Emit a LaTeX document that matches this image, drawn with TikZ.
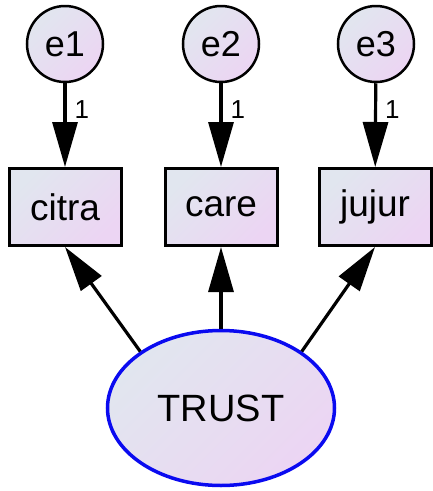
\documentclass[tikz,border=0pt]{standalone}
\usepackage{fontspec}
\setmainfont{Liberation Sans}
\usetikzlibrary{arrows.meta,shapes.geometric}
\definecolor{shadeA}{HTML}{E1E6EF}
\definecolor{shadeB}{HTML}{ECD5F3}
\definecolor{latentblue}{HTML}{0A0AF0}
\newfontfamily\labelfont{Liberation Sans}
\tikzset{
  filled/.style={top color=shadeA, bottom color=shadeB, shading angle=45},
  errvar/.style={circle, draw=black, line width=2.5pt, filled, minimum size=76pt,
    inner sep=0pt, font=\fontsize{36}{40}\selectfont},
  obsvar/.style={rectangle, draw=black, line width=3pt, filled, minimum width=112pt,
    minimum height=77pt, inner sep=0pt, font=\fontsize{37}{40}\selectfont},
  latvar/.style={ellipse, draw=latentblue, line width=3.5pt, filled, minimum width=227pt,
    minimum height=155pt, inner sep=0pt, font=\fontsize{38}{42}\selectfont},
  path/.style={line width=3.2pt, -{Triangle[length=45pt,width=25pt]}},
  pathweight/.style={font=\labelfont\fontsize{26}{28}\selectfont, inner sep=0pt,
    anchor=west, xshift=8pt}
}
\begin{document}
\begin{tikzpicture}[x=1pt, y=-1pt]
  \useasboundingbox (0,0) rectangle (433,491);

  % error terms
  \node[errvar] (e1) at (65,44)  {e1};
  \node[errvar] (e2) at (221,44) {e2};
  \node[errvar] (e3) at (376,44) {e3};

  % observed indicators
  \node[obsvar] (citra) at (65,207)  {citra};
  \node[obsvar] (care)  at (221,207) {care};
  \node[obsvar] (jujur) at (375,207) {jujur};

  % latent construct
  \node[latvar] (TRUST) at (221,408) {TRUST};

  % error paths with fixed weights
  \draw[path] (e1) -- node[pathweight, pos=0.31] {1} (citra);
  \draw[path] (e2) -- node[pathweight, pos=0.31] {1} (care);
  \draw[path] (e3) -- node[pathweight, pos=0.31] {1} (jujur);

  % loadings
  \draw[path] (TRUST.145) -- (citra.south);
  \draw[path] (TRUST) -- (care);
  \draw[path] (TRUST.35) -- (jujur.south);
\end{tikzpicture}
\end{document}
